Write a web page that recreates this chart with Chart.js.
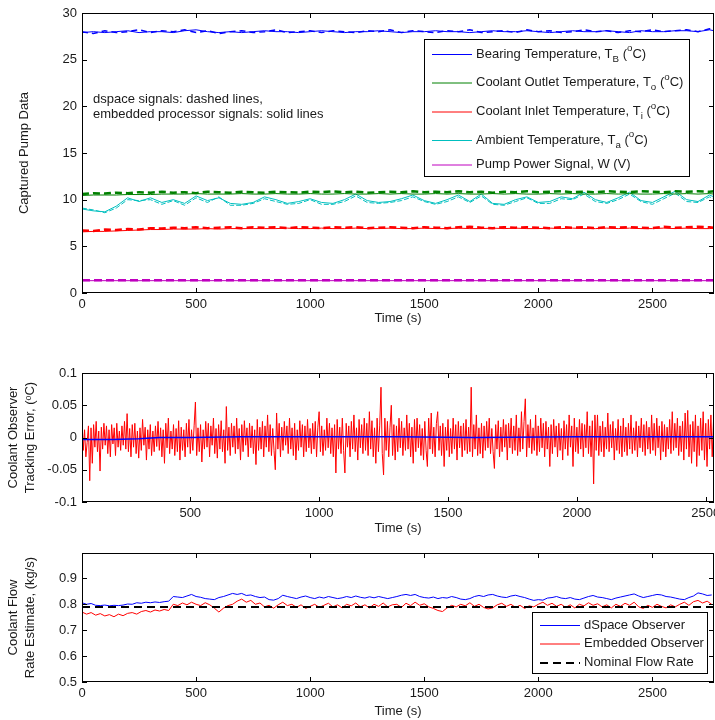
<!DOCTYPE html>
<html>
<head>
<meta charset="utf-8">
<script src="https://cdn.jsdelivr.net/npm/chart.js@4.4.1/dist/chart.umd.min.js"></script>
<style>
  html, body { margin: 0; padding: 0; background: #fff; }
  #wrap { position: relative; width: 715px; height: 720px; }
  canvas { position: absolute; left: 0; }
  #c-pump { top: 0; }
  #c-error { top: 350px; }
  #c-flow { top: 540px; }
</style>
</head>
<body>
<div id="wrap">
  <canvas id="c-pump" width="715" height="330"></canvas>
  <canvas id="c-error" width="715" height="190"></canvas>
  <canvas id="c-flow" width="715" height="180"></canvas>
</div>
<script>
// ---- top plot: captured pump data (s, degC / V) ----
const pumpTicksX = [0, 500, 1000, 1500, 2000, 2500];
const pumpTicksY = [0, 5, 10, 15, 20, 25, 30];
const pumpTime = [
  0, 50, 100, 150, 200, 250, 300, 350,
  400, 450, 500, 550, 600, 650, 700, 750,
  800, 850, 900, 950, 1000, 1050, 1100, 1150,
  1200, 1250, 1300, 1350, 1400, 1450, 1500, 1550,
  1600, 1650, 1700, 1750, 1800, 1850, 1900, 1950,
  2000, 2050, 2100, 2150, 2200, 2250, 2300, 2350,
  2400, 2450, 2500, 2550, 2600, 2650, 2700, 2750, 2770
];
const bearingSolid = [
  27.9, 28.0, 27.9, 28.0, 28.1, 27.9, 28.0, 28.0,
  27.9, 28.1, 28.2, 28.0, 27.9, 28.0, 27.9, 28.0,
  28.1, 28.0, 28.0, 27.9, 28.0, 28.1, 28.0, 27.9,
  28.0, 28.0, 28.1, 28.0, 27.9, 28.0, 28.0, 28.1,
  28.0, 28.0, 27.9, 28.0, 28.1, 28.0, 28.0, 28.1,
  28.0, 27.9, 28.0, 28.1, 28.0, 28.0, 28.1, 28.0,
  27.9, 28.1, 28.0, 28.0, 28.1, 28.1, 28.0, 28.2, 28.1
];
const bearingDashed = [
  28.0, 27.8, 28.1, 27.9, 28.0, 28.2, 27.9, 28.1,
  28.0, 28.2, 27.9, 28.1, 27.8, 28.0, 28.1, 27.9,
  28.0, 28.2, 27.9, 28.0, 28.1, 27.9, 28.1, 28.0,
  27.9, 28.1, 28.0, 28.2, 27.9, 28.1, 28.0, 27.9,
  28.1, 28.0, 28.2, 27.9, 28.0, 28.1, 27.9, 28.2,
  28.0, 28.1, 27.9, 28.0, 28.2, 28.0, 28.1, 27.9,
  28.1, 28.0, 28.2, 28.0, 28.1, 28.2, 28.0, 28.3, 28.2
];
const outletSolid = [
  10.45, 10.5, 10.5, 10.5, 10.55, 10.55, 10.55, 10.6,
  10.6, 10.6, 10.65, 10.6, 10.6, 10.6, 10.65, 10.6,
  10.6, 10.65, 10.6, 10.6, 10.65, 10.6, 10.6, 10.65,
  10.6, 10.6, 10.65, 10.6, 10.65, 10.6, 10.6, 10.65,
  10.6, 10.65, 10.6, 10.6, 10.65, 10.6, 10.65, 10.6,
  10.6, 10.65, 10.6, 10.65, 10.6, 10.6, 10.65, 10.6,
  10.65, 10.6, 10.6, 10.65, 10.6, 10.65, 10.6, 10.65, 10.6
];
const outletDashed = [
  10.6, 10.7, 10.65, 10.75, 10.7, 10.8, 10.75, 10.85,
  10.75, 10.8, 10.7, 10.85, 10.8, 10.75, 10.85, 10.8,
  10.75, 10.85, 10.8, 10.75, 10.85, 10.8, 10.9, 10.8,
  10.85, 10.75, 10.8, 10.85, 10.8, 10.9, 10.8, 10.85,
  10.8, 10.9, 10.8, 10.85, 10.75, 10.85, 10.8, 10.9,
  10.8, 10.85, 10.9, 10.8, 10.85, 10.8, 10.9, 10.85,
  10.8, 10.9, 10.85, 10.8, 10.9, 10.85, 10.9, 10.85, 10.9
];
const inletSolid = [
  6.55, 6.6, 6.6, 6.65, 6.7, 6.75, 6.8, 6.8,
  6.85, 6.85, 6.85, 6.9, 6.85, 6.9, 6.9, 6.9,
  6.9, 6.9, 6.95, 6.9, 6.9, 6.95, 6.9, 6.9,
  6.95, 6.9, 6.9, 6.95, 6.9, 6.9, 6.95, 6.9,
  6.9, 6.95, 6.9, 6.9, 6.95, 6.9, 6.95, 6.9,
  6.9, 6.95, 6.9, 6.95, 6.9, 6.9, 6.95, 6.9,
  6.95, 6.9, 6.9, 6.95, 6.9, 6.95, 6.9, 6.9, 6.95
];
const inletDashed = [
  6.7, 6.65, 6.8, 6.75, 6.85, 6.8, 6.95, 6.9,
  7.0, 6.95, 7.05, 6.95, 7.0, 7.05, 6.95, 7.05,
  7.0, 7.05, 6.95, 7.05, 7.0, 6.95, 7.05, 7.0,
  7.05, 6.95, 7.0, 7.05, 7.0, 6.95, 7.05, 7.0,
  6.95, 7.05, 7.1, 7.0, 6.95, 7.05, 7.0, 7.05,
  7.0, 6.95, 7.05, 7.0, 7.05, 6.95, 7.05, 7.0,
  7.05, 7.0, 6.95, 7.1, 7.0, 7.05, 7.1, 7.05, 7.0
];
const ambientSolid = [
  9.0, 8.8, 8.7, 9.3, 10.2, 9.8, 10.2, 9.7,
  10.0, 9.6, 10.4, 9.9, 10.2, 9.6, 9.5, 9.7,
  10.3, 10.0, 9.6, 9.8, 10.1, 9.7, 9.6, 10.0,
  10.6, 9.9, 9.7, 9.8, 10.1, 10.5, 9.9, 9.6,
  10.0, 10.5, 9.8, 10.6, 9.6, 9.5, 10.0, 10.3,
  9.7, 9.8, 10.3, 10.1, 10.8, 10.0, 9.7, 10.2,
  10.8, 9.9, 9.7, 10.3, 10.9, 10.0, 9.8, 10.5, 10.3
];
const ambientDashed = [
  9.1, 8.9, 8.6, 9.1, 10.0, 9.9, 10.0, 9.5,
  9.9, 9.4, 10.2, 9.7, 10.3, 9.4, 9.4, 9.6,
  10.1, 9.8, 9.5, 9.6, 10.0, 9.5, 9.5, 9.8,
  10.4, 9.7, 9.6, 9.7, 9.9, 10.3, 9.8, 9.5,
  9.8, 10.3, 9.7, 10.4, 9.5, 9.4, 9.8, 10.2,
  9.6, 9.6, 10.1, 10.0, 10.6, 9.8, 9.6, 10.0,
  10.6, 9.8, 9.5, 10.1, 10.7, 9.8, 9.7, 10.3, 10.1
];
const powerTime = [0, 2770];
const powerSolid = [1.32, 1.32];
const powerDashed = [1.36, 1.36];

// ---- middle plot: coolant observer tracking error (degC) ----
const errTicksX = [500, 1000, 1500, 2000, 2500];
const errTicksY = [-0.1, -0.05, 0, 0.05, 0.1];
const errTime = [
  80, 85, 90, 95, 100, 105, 110, 115, 120, 125,
  130, 135, 140, 145, 150, 155, 160, 165, 170, 175,
  180, 185, 190, 195, 200, 205, 210, 215, 220, 225,
  230, 235, 240, 245, 250, 255, 260, 265, 270, 275,
  280, 285, 290, 295, 300, 305, 310, 315, 320, 325,
  330, 335, 340, 345, 350, 355, 360, 365, 370, 375,
  380, 385, 390, 395, 400, 405, 410, 415, 420, 425,
  430, 435, 440, 445, 450, 455, 460, 465, 470, 475,
  480, 485, 490, 495, 500, 505, 510, 515, 520, 525,
  530, 535, 540, 545, 550, 555, 560, 565, 570, 575,
  580, 585, 590, 595, 600, 605, 610, 615, 620, 625,
  630, 635, 640, 645, 650, 655, 660, 665, 670, 675,
  680, 685, 690, 695, 700, 705, 710, 715, 720, 725,
  730, 735, 740, 745, 750, 755, 760, 765, 770, 775,
  780, 785, 790, 795, 800, 805, 810, 815, 820, 825,
  830, 835, 840, 845, 850, 855, 860, 865, 870, 875,
  880, 885, 890, 895, 900, 905, 910, 915, 920, 925,
  930, 935, 940, 945, 950, 955, 960, 965, 970, 975,
  980, 985, 990, 995, 1000, 1005, 1010, 1015, 1020, 1025,
  1030, 1035, 1040, 1045, 1050, 1055, 1060, 1065, 1070, 1075,
  1080, 1085, 1090, 1095, 1100, 1105, 1110, 1115, 1120, 1125,
  1130, 1135, 1140, 1145, 1150, 1155, 1160, 1165, 1170, 1175,
  1180, 1185, 1190, 1195, 1200, 1205, 1210, 1215, 1220, 1225,
  1230, 1235, 1240, 1245, 1250, 1255, 1260, 1265, 1270, 1275,
  1280, 1285, 1290, 1295, 1300, 1305, 1310, 1315, 1320, 1325,
  1330, 1335, 1340, 1345, 1350, 1355, 1360, 1365, 1370, 1375,
  1380, 1385, 1390, 1395, 1400, 1405, 1410, 1415, 1420, 1425,
  1430, 1435, 1440, 1445, 1450, 1455, 1460, 1465, 1470, 1475,
  1480, 1485, 1490, 1495, 1500, 1505, 1510, 1515, 1520, 1525,
  1530, 1535, 1540, 1545, 1550, 1555, 1560, 1565, 1570, 1575,
  1580, 1585, 1590, 1595, 1600, 1605, 1610, 1615, 1620, 1625,
  1630, 1635, 1640, 1645, 1650, 1655, 1660, 1665, 1670, 1675,
  1680, 1685, 1690, 1695, 1700, 1705, 1710, 1715, 1720, 1725,
  1730, 1735, 1740, 1745, 1750, 1755, 1760, 1765, 1770, 1775,
  1780, 1785, 1790, 1795, 1800, 1805, 1810, 1815, 1820, 1825,
  1830, 1835, 1840, 1845, 1850, 1855, 1860, 1865, 1870, 1875,
  1880, 1885, 1890, 1895, 1900, 1905, 1910, 1915, 1920, 1925,
  1930, 1935, 1940, 1945, 1950, 1955, 1960, 1965, 1970, 1975,
  1980, 1985, 1990, 1995, 2000, 2005, 2010, 2015, 2020, 2025,
  2030, 2035, 2040, 2045, 2050, 2055, 2060, 2065, 2070, 2075,
  2080, 2085, 2090, 2095, 2100, 2105, 2110, 2115, 2120, 2125,
  2130, 2135, 2140, 2145, 2150, 2155, 2160, 2165, 2170, 2175,
  2180, 2185, 2190, 2195, 2200, 2205, 2210, 2215, 2220, 2225,
  2230, 2235, 2240, 2245, 2250, 2255, 2260, 2265, 2270, 2275,
  2280, 2285, 2290, 2295, 2300, 2305, 2310, 2315, 2320, 2325,
  2330, 2335, 2340, 2345, 2350, 2355, 2360, 2365, 2370, 2375,
  2380, 2385, 2390, 2395, 2400, 2405, 2410, 2415, 2420, 2425,
  2430, 2435, 2440, 2445, 2450, 2455, 2460, 2465, 2470, 2475,
  2480, 2485, 2490, 2495, 2500, 2505, 2510, 2515, 2520, 2525,
  2530
];
const errEmbedded = [
  0.027, -0.020, 0.012, -0.030, -0.008, 0.018, -0.067, 0.015, -0.040, 0.020,
  -0.015, 0.025, -0.022, 0.010, -0.052, 0.016, -0.018, 0.022, -0.012, 0.018,
  -0.025, 0.012, -0.030, 0.020, -0.010, 0.015, -0.028, 0.022, -0.015, 0.010,
  -0.020, 0.018, -0.012, 0.025, -0.018, 0.037, -0.022, 0.014, -0.030, 0.020,
  -0.015, 0.022, -0.025, 0.010, -0.032, 0.015, -0.020, 0.028, -0.012, 0.016,
  -0.035, 0.012, -0.018, 0.020, -0.028, 0.010, -0.022, 0.018, -0.014, 0.025,
  -0.020, 0.015, -0.030, 0.012, -0.040, 0.022, -0.016, 0.030, -0.025, 0.010,
  -0.018, 0.020, -0.028, 0.014, -0.022, 0.026, -0.035, 0.016, -0.020, 0.012,
  -0.030, 0.022, -0.015, 0.028, -0.025, 0.012, -0.020, 0.018, 0.055, -0.028,
  0.015, -0.022, 0.020, -0.038, 0.012, -0.018, 0.025, -0.015, 0.022, -0.030,
  0.018, -0.012, 0.030, -0.025, 0.014, -0.032, 0.020, -0.018, 0.026, -0.022,
  0.012, -0.040, 0.048, -0.020, 0.016, -0.028, 0.022, -0.015, 0.018, -0.025,
  0.030, -0.018, 0.014, -0.035, 0.020, -0.022, 0.026, -0.012, 0.015, -0.030,
  0.022, -0.016, 0.018, -0.025, 0.012, -0.042, 0.028, -0.020, 0.016, -0.018,
  0.025, -0.030, 0.018, -0.015, 0.035, -0.022, 0.020, -0.028, 0.014, -0.020,
  -0.050, 0.038, -0.018, 0.022, -0.030, 0.016, -0.020, 0.025, -0.012, 0.018,
  -0.025, 0.030, -0.018, 0.015, -0.028, 0.022, -0.035, 0.012, -0.020, 0.026,
  -0.015, 0.020, -0.030, 0.018, -0.022, 0.028, -0.016, 0.014, -0.025, 0.022,
  -0.018, 0.025, -0.030, 0.016, 0.040, -0.022, 0.018, -0.028, 0.012, -0.020,
  0.030, -0.016, 0.022, -0.025, 0.015, -0.030, 0.020, -0.055, 0.028, -0.018,
  0.016, -0.025, 0.030, -0.020, -0.055, 0.022, -0.015, 0.018, -0.030, 0.025,
  -0.018, 0.035, -0.022, 0.015, -0.035, 0.028, -0.016, 0.020, -0.025, 0.030,
  -0.020, 0.022, -0.028, 0.040, -0.018, 0.026, -0.030, 0.015, -0.040, 0.030,
  -0.022, 0.018, 0.078, -0.025, -0.058, 0.030, -0.020, 0.025, -0.030, 0.016,
  0.050, -0.028, 0.020, -0.035, 0.018, -0.022, 0.030, -0.016, 0.025, -0.028,
  0.015, -0.020, 0.035, -0.018, 0.022, -0.030, 0.016, -0.040, 0.028, -0.022,
  0.030, -0.016, 0.020, -0.028, 0.014, -0.035, 0.025, -0.020, -0.045, 0.030,
  -0.018, 0.038, -0.025, 0.016, -0.030, 0.022, 0.040, -0.020, 0.018, -0.028,
  0.022, -0.045, 0.016, -0.020, 0.028, -0.030, 0.014, -0.025, 0.030, -0.018,
  0.020, -0.035, 0.025, -0.016, 0.018, -0.030, 0.022, -0.020, 0.028, -0.025,
  0.016, -0.022, 0.078, -0.030, 0.020, -0.018, 0.035, -0.028, 0.015, -0.025,
  0.022, -0.032, 0.018, -0.020, 0.025, -0.016, 0.030, -0.025, 0.014, -0.022,
  -0.048, 0.020, -0.018, 0.026, -0.030, 0.016, -0.022, 0.028, -0.015, 0.020,
  -0.035, 0.022, -0.016, 0.030, -0.025, 0.018, -0.020, 0.035, -0.028, 0.015,
  -0.022, 0.040, -0.018, 0.025, 0.060, -0.030, 0.020, -0.016, 0.028, -0.025,
  0.015, -0.020, 0.035, -0.028, 0.018, -0.022, 0.030, -0.016, 0.022, -0.030,
  0.025, -0.018, 0.016, -0.045, 0.020, -0.025, 0.028, -0.015, 0.018, -0.030,
  0.022, -0.020, 0.014, -0.035, 0.026, -0.018, 0.020, -0.028, 0.035, -0.015,
  0.018, -0.045, 0.030, -0.022, 0.016, -0.025, 0.028, -0.018, 0.022, -0.030,
  0.020, -0.016, 0.040, -0.025, 0.018, -0.030, 0.026, -0.072, 0.035, -0.020,
  0.035, -0.028, 0.018, -0.022, 0.025, -0.030, 0.016, -0.018, 0.038, -0.022,
  0.020, -0.016, 0.025, -0.035, 0.014, -0.020, 0.028, -0.025, 0.018, -0.030,
  0.030, -0.022, 0.016, -0.028, 0.022, -0.018, 0.035, -0.025, 0.015, -0.020,
  0.025, -0.030, 0.018, -0.016, 0.030, -0.022, 0.020, -0.028, 0.025, -0.018,
  0.016, -0.025, 0.035, -0.020, 0.022, -0.028, 0.030, -0.016, 0.018, -0.035,
  0.025, -0.022, 0.020, -0.030, 0.016, -0.018, 0.028, -0.025, 0.040, -0.020,
  0.022, -0.016, 0.030, -0.028, 0.018, -0.022, 0.025, -0.035, 0.038, -0.018,
  0.042, -0.030, 0.020, -0.040, 0.025, -0.022, 0.035, -0.045, 0.018, -0.028,
  0.030, -0.020, 0.040, -0.035, 0.022, -0.045, 0.028, -0.018, 0.035, -0.030,
  0.025
];
const errDspaceTime = [80, 200, 300, 380, 500, 700, 1000, 1300, 1600, 2000, 2300, 2532];
const errDspace = [-0.003, -0.003, -0.002, 0.000, 0.000, 0.001, 0.001, 0.001, 0.000, 0.001, 0.001, 0.001];

// ---- bottom plot: coolant flow rate estimate (kg/s) ----
const flowTicksX = [0, 500, 1000, 1500, 2000, 2500];
const flowTicksY = [0.5, 0.6, 0.7, 0.8, 0.9];
const flowTime = [
  0, 20, 40, 60, 80, 100, 120, 140, 160, 180,
  200, 220, 240, 260, 280, 300, 320, 340, 360, 380,
  400, 420, 440, 460, 480, 500, 520, 540, 560, 580,
  600, 620, 640, 660, 680, 700, 720, 740, 760, 780,
  800, 820, 840, 860, 880, 900, 920, 940, 960, 980,
  1000, 1020, 1040, 1060, 1080, 1100, 1120, 1140, 1160, 1180,
  1200, 1220, 1240, 1260, 1280, 1300, 1320, 1340, 1360, 1380,
  1400, 1420, 1440, 1460, 1480, 1500, 1520, 1540, 1560, 1580,
  1600, 1620, 1640, 1660, 1680, 1700, 1720, 1740, 1760, 1780,
  1800, 1820, 1840, 1860, 1880, 1900, 1920, 1940, 1960, 1980,
  2000, 2020, 2040, 2060, 2080, 2100, 2120, 2140, 2160, 2180,
  2200, 2220, 2240, 2260, 2280, 2300, 2320, 2340, 2360, 2380,
  2400, 2420, 2440, 2460, 2480, 2500, 2520, 2540, 2560, 2580,
  2600, 2620, 2640, 2660, 2680, 2700, 2720, 2740, 2760
];
const flowDspace = [
  0.806, 0.800, 0.803, 0.796, 0.795, 0.797, 0.794, 0.796, 0.795, 0.797,
  0.801, 0.800, 0.806, 0.804, 0.808, 0.806, 0.809, 0.807, 0.810, 0.812,
  0.830, 0.828, 0.826, 0.832, 0.838, 0.830, 0.827, 0.822, 0.820, 0.818,
  0.826, 0.830, 0.836, 0.842, 0.838, 0.842, 0.834, 0.836, 0.830, 0.826,
  0.828, 0.818, 0.816, 0.822, 0.835, 0.830, 0.826, 0.822, 0.828, 0.832,
  0.826, 0.822, 0.828, 0.824, 0.830, 0.826, 0.822, 0.825, 0.830, 0.826,
  0.832, 0.827, 0.824, 0.829, 0.825, 0.830, 0.826, 0.822, 0.826, 0.830,
  0.835, 0.838, 0.834, 0.838, 0.830, 0.826, 0.824, 0.828, 0.822, 0.826,
  0.824, 0.830, 0.826, 0.820, 0.818, 0.822, 0.830, 0.834, 0.830, 0.836,
  0.838, 0.832, 0.828, 0.826, 0.832, 0.835, 0.830, 0.826, 0.820, 0.815,
  0.818, 0.816, 0.824, 0.826, 0.830, 0.824, 0.822, 0.826, 0.820, 0.818,
  0.824, 0.830, 0.834, 0.828, 0.826, 0.822, 0.818, 0.824, 0.828, 0.832,
  0.836, 0.840, 0.832, 0.826, 0.830, 0.834, 0.838, 0.836, 0.830, 0.828,
  0.824, 0.820, 0.818, 0.826, 0.832, 0.844, 0.840, 0.834, 0.836
];
const flowEmbedded = [
  0.770, 0.762, 0.768, 0.758, 0.764, 0.755, 0.760, 0.752, 0.762, 0.756,
  0.765, 0.768, 0.762, 0.772, 0.776, 0.770, 0.778, 0.774, 0.780, 0.776,
  0.800, 0.795, 0.805, 0.798, 0.808, 0.800, 0.795, 0.806, 0.798, 0.785,
  0.770, 0.785, 0.795, 0.800, 0.812, 0.820, 0.808, 0.815, 0.800, 0.805,
  0.790, 0.796, 0.785, 0.798, 0.808, 0.795, 0.800, 0.788, 0.798, 0.784,
  0.792, 0.800, 0.788, 0.796, 0.804, 0.790, 0.798, 0.786, 0.800, 0.794,
  0.805, 0.790, 0.798, 0.786, 0.800, 0.792, 0.805, 0.790, 0.798, 0.800,
  0.788, 0.804, 0.795, 0.808, 0.796, 0.802, 0.790, 0.784, 0.776, 0.772,
  0.786, 0.796, 0.790, 0.800, 0.794, 0.806, 0.792, 0.800, 0.788, 0.782,
  0.786, 0.798, 0.804, 0.792, 0.800, 0.788, 0.796, 0.784, 0.794, 0.790,
  0.800, 0.808, 0.796, 0.804, 0.792, 0.800, 0.788, 0.798, 0.786, 0.800,
  0.794, 0.806, 0.796, 0.802, 0.790, 0.798, 0.786, 0.800, 0.792, 0.804,
  0.796, 0.808, 0.790, 0.784, 0.796, 0.788, 0.800, 0.792, 0.786, 0.798,
  0.790, 0.800, 0.808, 0.796, 0.810, 0.815, 0.805, 0.812, 0.800
];
const nominalTime = [0, 2770];
const nominalFlow = [0.79, 0.79];

const FONT = "'Liberation Sans', Arial, sans-serif";
const FS = 13;
const INK = '#1a1a1a';
const BLUE = '#0000ff', GREEN = '#008000', RED = '#ff0000', CYAN = '#00bfbf', MAGENTA = '#bf00bf';

const xy = (ts, vs) => ts.map((t, i) => ({ x: t, y: vs[i] }));

function trace(ts, vs, color, width, dash) {
    return {
        data: xy(ts, vs),
        borderColor: color,
        borderWidth: width,
        borderDash: dash || [],
        pointRadius: 0,
        tension: 0,
        fill: false
    };
}

// text runs: [text, shift] where shift -1 = subscript, 1 = superscript
function drawRich(ctx, parts, x, y, size) {
    parts.forEach(([text, shift]) => {
        const s = shift ? size * 0.75 : size;
        ctx.font = `${s}px ${FONT}`;
        const dy = shift > 0 ? -size * 0.42 : shift < 0 ? size * 0.38 : 0;
        ctx.fillText(text, x, y + dy);
        x += ctx.measureText(text).width;
    });
}

// MATLAB style box with inward tick marks
const boxTicks = {
    id: 'boxTicks',
    afterDatasetsDraw(chart) {
        const { ctx, chartArea: a, scales: { x, y } } = chart;
        const len = 5;
        ctx.save();
        ctx.strokeStyle = '#000';
        ctx.lineWidth = 1;
        ctx.beginPath();
        x.ticks.forEach(t => {
            const px = Math.round(x.getPixelForValue(t.value)) + 0.5;
            ctx.moveTo(px, a.bottom); ctx.lineTo(px, a.bottom - len);
            ctx.moveTo(px, a.top); ctx.lineTo(px, a.top + len);
        });
        y.ticks.forEach(t => {
            const py = Math.round(y.getPixelForValue(t.value)) + 0.5;
            ctx.moveTo(a.left, py); ctx.lineTo(a.left + len, py);
            ctx.moveTo(a.right, py); ctx.lineTo(a.right - len, py);
        });
        ctx.stroke();
        ctx.strokeRect(Math.round(a.left) + 0.5, Math.round(a.top) + 0.5,
            Math.round(a.right - a.left) - 1, Math.round(a.bottom - a.top) - 1);
        ctx.restore();
    }
};

function boxLegend(cfg) {
    return {
        id: 'boxLegend',
        afterDraw(chart) {
            const ctx = chart.ctx;
            const [x0, y0, x1, y1] = cfg.box;
            ctx.save();
            ctx.fillStyle = '#fff';
            ctx.fillRect(x0, y0, x1 - x0, y1 - y0);
            ctx.strokeStyle = '#000';
            ctx.lineWidth = 1;
            ctx.strokeRect(x0 + 0.5, y0 + 0.5, x1 - x0, y1 - y0);
            cfg.items.forEach((it, i) => {
                const y = cfg.rows[i];
                ctx.strokeStyle = it.color;
                ctx.lineWidth = it.width;
                ctx.setLineDash(it.dash || []);
                ctx.beginPath();
                ctx.moveTo(cfg.lineX[0], y + 0.5);
                ctx.lineTo(cfg.lineX[1], y + 0.5);
                ctx.stroke();
                ctx.setLineDash([]);
                ctx.fillStyle = INK;
                ctx.textBaseline = 'middle';
                ctx.textAlign = 'left';
                drawRich(ctx, it.parts, cfg.textX, y, cfg.size);
            });
            ctx.restore();
        }
    };
}

function note(lines, x, y0, step) {
    return {
        id: 'note',
        afterDraw(chart) {
            const ctx = chart.ctx;
            ctx.save();
            ctx.fillStyle = INK;
            ctx.font = `${FS}px ${FONT}`;
            ctx.textBaseline = 'middle';
            lines.forEach((l, i) => ctx.fillText(l, x, y0 + i * step));
            ctx.restore();
        }
    };
}

const tickFont = { family: FONT, size: FS };
const fmt = v => String(Math.round(v * 1000) / 1000);
const useTicks = list => s => { s.ticks = list.map(value => ({ value })); };

function xAxis(min, max, ticks, height, titlePad) {
    return {
        type: 'linear', min, max,
        grid: { display: false, drawTicks: false },
        border: { display: false },
        ticks: { padding: 4, color: INK, font: tickFont, maxRotation: 0, autoSkip: false, callback: fmt },
        afterBuildTicks: useTicks(ticks),
        title: { display: true, text: 'Time (s)', color: INK, font: { family: FONT, size: FS },
                 padding: { top: 0, bottom: titlePad } },
        // keep the plot box full width; edge labels may run off as in the original
        afterFit: s => { s.height = height; s.paddingLeft = 0; s.paddingRight = 0; }
    };
}

function yAxis(min, max, ticks, title, titlePad, lineHeight) {
    return {
        min, max,
        grid: { display: false, drawTicks: false },
        border: { display: false },
        ticks: { padding: 5, color: INK, font: tickFont, autoSkip: false, callback: fmt },
        afterBuildTicks: useTicks(ticks),
        title: { display: true, text: title, color: INK, font: { family: FONT, size: FS, lineHeight },
                 padding: { top: titlePad, bottom: 0 } },
        afterFit: s => { s.width = 82; }
    };
}

function baseOptions(padTop, x, y) {
    return {
        responsive: false,
        animation: false,
        events: [],
        layout: { padding: { top: padTop, right: 1, left: 0, bottom: 0 } },
        scales: { x, y },
        plugins: { legend: { display: false }, tooltip: { enabled: false } }
    };
}

// ---- top chart ----
new Chart(document.getElementById('c-pump'), {
    type: 'line',
    data: {
        datasets: [
            trace(pumpTime, bearingSolid, BLUE, 1),
            trace(pumpTime, bearingDashed, BLUE, 1.5, [6, 4]),
            trace(pumpTime, outletSolid, GREEN, 1),
            trace(pumpTime, outletDashed, GREEN, 2.5, [7, 4]),
            trace(pumpTime, ambientSolid, CYAN, 1),
            trace(pumpTime, ambientDashed, CYAN, 1, [5, 2]),
            trace(pumpTime, inletSolid, RED, 1),
            trace(pumpTime, inletDashed, RED, 2.5, [7, 4]),
            trace(powerTime, powerSolid, MAGENTA, 1),
            trace(powerTime, powerDashed, MAGENTA, 2.5, [8, 4])
        ]
    },
    options: baseOptions(13,
        xAxis(0, 2770, pumpTicksX, 37, 4.2),
        yAxis(0, 30, pumpTicksY, 'Captured Pump Data', 16.2, 1.2)),
    plugins: [boxTicks, note(['dspace signals: dashed lines,', 'embedded processor signals: solid lines'], 93, 99, 15.5),
        boxLegend({
            box: [424, 39, 689, 176], rows: [54, 82.5, 111.5, 140, 164.5],
            lineX: [432, 472], textX: 476, size: FS,
            items: [
                { color: BLUE, width: 1, parts: [['Bearing Temperature, T', 0], ['B', -1], [' (', 0], ['o', 1], ['C)', 0]] },
                { color: GREEN, width: 1, parts: [['Coolant Outlet Temperature, T', 0], ['o', -1], [' (', 0], ['o', 1], ['C)', 0]] },
                { color: RED, width: 1, parts: [['Coolant Inlet Temperature, T', 0], ['i', -1], [' (', 0], ['o', 1], ['C)', 0]] },
                { color: CYAN, width: 1, parts: [['Ambient Temperature, T', 0], ['a', -1], [' (', 0], ['o', 1], ['C)', 0]] },
                { color: MAGENTA, width: 1, parts: [['Pump Power Signal, W (V)', 0]] }
            ]
        })]
});

// ---- middle chart ----
new Chart(document.getElementById('c-error'), {
    type: 'line',
    data: {
        datasets: [
            trace(errDspaceTime, errDspace, BLUE, 1.5),
            trace(errTime, errEmbedded, RED, 1)
        ]
    },
    options: baseOptions(23,
        xAxis(80, 2532, errTicksX, 38, 4.2),
        yAxis(-0.1, 0.1, errTicksY, ['Coolant Observer', 'Tracking Error, (\u1d52C)'], 4.5, 17 / FS)),
    plugins: [boxTicks]
});

// ---- bottom chart ----
new Chart(document.getElementById('c-flow'), {
    type: 'line',
    data: {
        datasets: [
            trace(nominalTime, nominalFlow, '#000', 2, [8, 5]),
            trace(flowTime, flowEmbedded, RED, 1),
            trace(flowTime, flowDspace, BLUE, 1)
        ]
    },
    options: baseOptions(13,
        xAxis(0, 2770, flowTicksX, 38, 1.2),
        yAxis(0.5, 0.998, flowTicksY, ['Coolant Flow', 'Rate Estimate, (kg/s)'], 4.5, 17 / FS)),
    plugins: [boxTicks,
        boxLegend({
            box: [532, 72, 707, 133], rows: [85, 103.5, 122.5],
            lineX: [540, 580], textX: 584, size: FS,
            items: [
                { color: BLUE, width: 1, parts: [['dSpace Observer', 0]] },
                { color: RED, width: 1, parts: [['Embedded Observer', 0]] },
                { color: '#000', width: 2, dash: [8, 5], parts: [['Nominal Flow Rate', 0]] }
            ]
        })]
});
</script>
</body>
</html>
